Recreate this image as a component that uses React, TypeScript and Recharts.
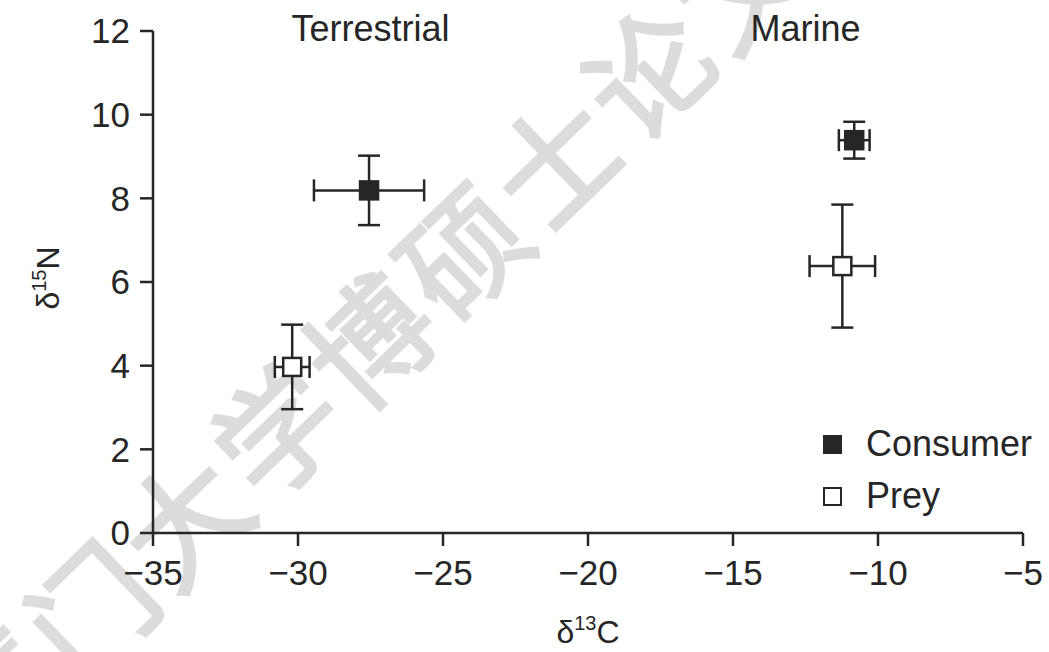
import {
  ScatterChart,
  Scatter,
  XAxis,
  YAxis,
  ErrorBar,
  Legend,
  ReferenceDot,
  Label,
} from 'recharts';

// habitats shown along the top of the plot
const regionNames = ['Terrestrial', 'Marine'];
const regionC = [-27.5, -12.5];

// consumer means (±SD) for terrestrial, marine
const consumerC = [-27.55, -10.82];
const consumerN = [8.19, 9.39];
const consumerCErr = [1.9, 0.53];
const consumerNErr = [0.83, 0.44];

// prey means (±SD) for terrestrial, marine
const preyC = [-30.2, -11.23];
const preyN = [3.97, 6.38];
const preyCErr = [0.6, 1.13];
const preyNErr = [1.01, 1.47];

const xTicks = [-35, -30, -25, -20, -15, -10, -5];
const yTicks = [0, 2, 4, 6, 8, 10, 12];
const watermark = '厦门大学博硕士论文';

const FONT = '"Liberation Sans", Arial, Helvetica, sans-serif';
const INK = '#262626';

const toRows = (c: number[], n: number[], ce: number[], ne: number[]) =>
  c.map((v, i) => ({ c: v, n: n[i], ce: ce[i], ne: ne[i] }));

const consumerData = toRows(consumerC, consumerN, consumerCErr, consumerNErr);
const preyData = toRows(preyC, preyN, preyCErr, preyNErr);

const fmt = (v: number) => (v < 0 ? `\u2212${Math.abs(v)}` : `${v}`);

const square = (fill: string) => (props: any) => {
  const { cx, cy } = props;
  if (cx == null || cy == null) return <g />;
  return (
    <rect x={cx - 9} y={cy - 9} width={18} height={18} fill={fill} stroke={INK} strokeWidth={2.5} />
  );
};

const legendItems = [
  { name: 'Consumer', fill: INK },
  { name: 'Prey', fill: '#fff' },
];

const renderLegend = () => (
  <div style={{ fontFamily: FONT, fontSize: 36, color: INK, lineHeight: '52px' }}>
    {legendItems.map((it) => (
      <div key={it.name} style={{ display: 'flex', alignItems: 'center' }}>
        <span
          style={{
            display: 'inline-block',
            width: 15,
            height: 15,
            background: it.fill,
            border: `2px solid ${INK}`,
            marginRight: 24,
          }}
        />
        {it.name}
      </div>
    ))}
  </div>
);

const renderXLabel = (props: any) => {
  const { viewBox } = props;
  const x = viewBox.x + viewBox.width / 2;
  const y = viewBox.y + 110;
  return (
    <text x={x} y={y} textAnchor="middle" fontFamily={FONT} fontSize={32} fill={INK}>
      <tspan>δ</tspan>
      <tspan fontSize={20} dy={-13}>13</tspan>
      <tspan dy={13}>C</tspan>
    </text>
  );
};

const renderYLabel = (props: any) => {
  const { viewBox } = props;
  const x = 59;
  const y = viewBox.y + viewBox.height / 2 - 4;
  return (
    <text
      x={x}
      y={y}
      textAnchor="middle"
      fontFamily={FONT}
      fontSize={32}
      fill={INK}
      transform={`rotate(-90, ${x}, ${y})`}
    >
      <tspan>δ</tspan>
      <tspan fontSize={20} dy={-13}>15</tspan>
      <tspan dy={13}>N</tspan>
    </text>
  );
};

export default function App() {
  const tickStyle = { fill: INK, fontSize: 35, fontFamily: FONT };
  const axisLine = { stroke: INK, strokeWidth: 2.5 };

  return (
    <div style={{ position: 'absolute', left: 0, top: 0, width: 1049, height: 652, background: '#fff', overflow: 'hidden' }}>
      <svg
        width={1049}
        height={652}
        style={{ position: 'absolute', left: 0, top: 0 }}
      >
        <text
          x={368}
          y={334}
          textAnchor="middle"
          dominantBaseline="central"
          fontFamily='"Noto Sans CJK SC", sans-serif'
          fontSize={122}
          letterSpacing={7}
          fill="#dcdcdc"
          stroke="#dcdcdc"
          strokeWidth={3}
          transform="rotate(-44, 368, 334)"
        >
          {watermark}
        </text>
      </svg>
      <div style={{ position: 'absolute', left: 0, top: 0 }}>
        <ScatterChart width={1049} height={652} margin={{ top: 31, right: 26, bottom: 0, left: 0 }}>
          <XAxis
            type="number"
            dataKey="c"
            domain={[-35, -5]}
            ticks={xTicks}
            tickFormatter={fmt}
            tick={tickStyle}
            tickSize={13}
            tickMargin={14}
            axisLine={axisLine}
            tickLine={axisLine}
            height={119}
            allowDataOverflow
          >
            <Label content={renderXLabel} />
          </XAxis>
          <YAxis
            type="number"
            dataKey="n"
            domain={[0, 12]}
            ticks={yTicks}
            tick={tickStyle}
            tickSize={13}
            tickMargin={10}
            axisLine={axisLine}
            tickLine={axisLine}
            width={153}
            allowDataOverflow
          >
            <Label content={renderYLabel} />
          </YAxis>
          <Legend
            layout="vertical"
            align="center"
            verticalAlign="middle"
            content={renderLegend}
            wrapperStyle={{ left: 823, top: 418, width: 226 }}
          />
          <Scatter
            name="Consumer"
            data={consumerData}
            shape={square(INK)}
            isAnimationActive={false}
          >
            <ErrorBar dataKey="ce" direction="x" width={11} stroke={INK} strokeWidth={2.5} />
            <ErrorBar dataKey="ne" direction="y" width={11} stroke={INK} strokeWidth={2.5} />
          </Scatter>
          <Scatter
            name="Prey"
            data={preyData}
            shape={square('#fff')}
            isAnimationActive={false}
          >
            <ErrorBar dataKey="ce" direction="x" width={11} stroke={INK} strokeWidth={2.5} />
            <ErrorBar dataKey="ne" direction="y" width={11} stroke={INK} strokeWidth={2.5} />
          </Scatter>
          {regionNames.map((name, i) => (
            <ReferenceDot
              key={name}
              x={regionC[i]}
              y={12}
              r={0}
              fill="none"
              stroke="none"
              ifOverflow="visible"
              label={{ value: name, position: 'center', dy: -3, fontSize: 36, fontFamily: FONT, fill: INK }}
            />
          ))}
        </ScatterChart>
      </div>
    </div>
  );
}
